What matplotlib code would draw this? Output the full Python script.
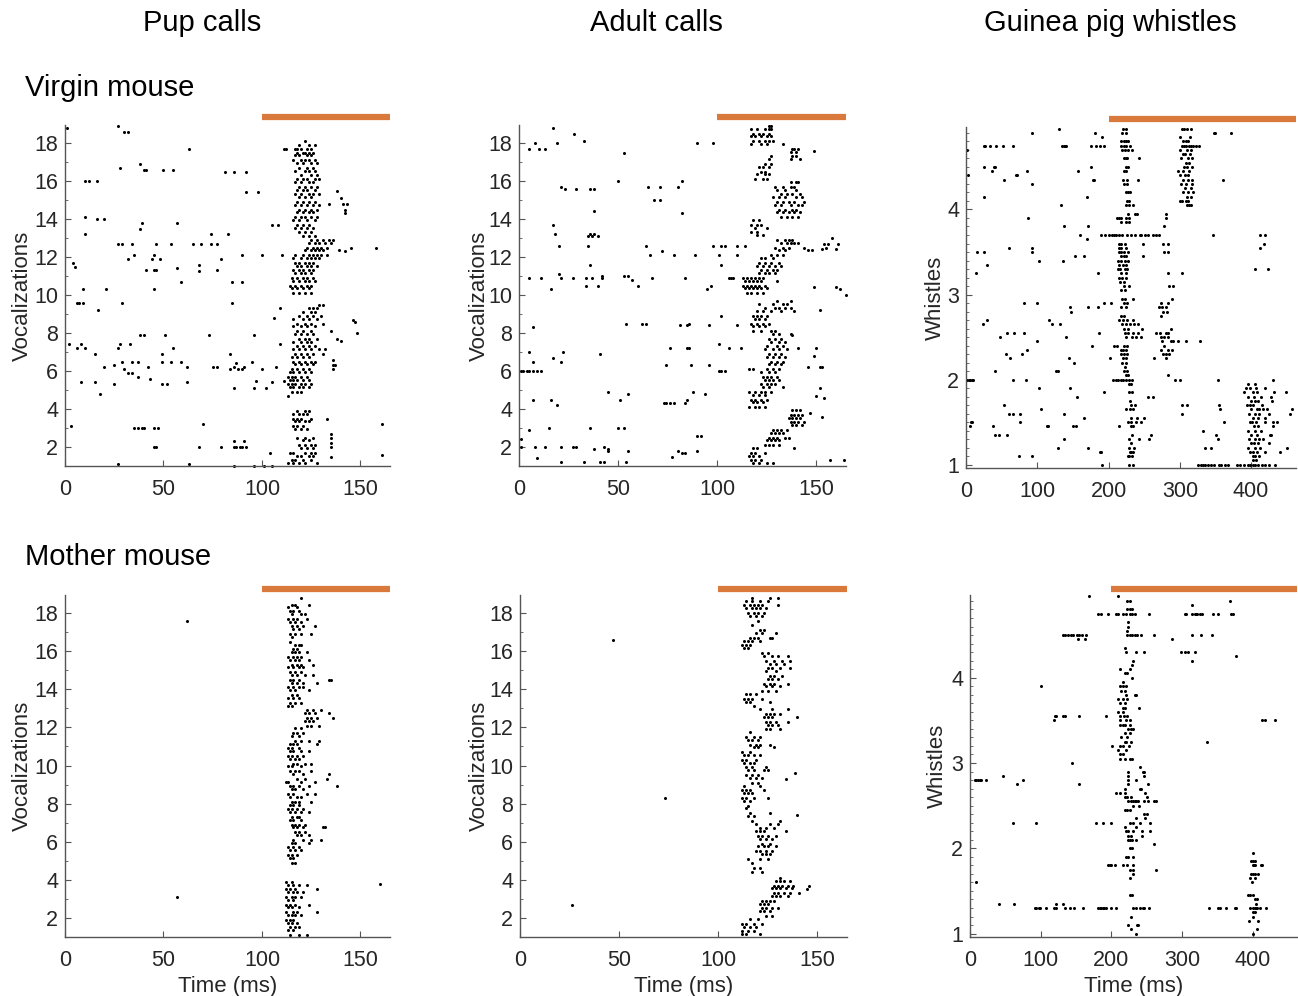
import matplotlib
matplotlib.use("Agg")
import matplotlib.pyplot as plt
from matplotlib.ticker import MultipleLocator

plt.rcParams['font.family'] = ['Liberation Sans', 'DejaVu Sans']

col_titles = ["Pup calls", "Adult calls", "Guinea pig whistles"]
row_titles = ["Virgin mouse", "Mother mouse"]
stim_start = [100, 100, 200]      # ms, start of orange bar
x_max = [165, 165, 463]

# spike rasters: (trial position, [spike times in ms])
virgin_pup = [
    (18.8, [1]), (18.9, [27]), (18.6, [30, 32]), (17.7, [63]),
    (16.7, [28]), (16.9, [38]), (16.6, [40, 41, 50, 55]), (16.5, [81, 86, 92]),
    (16.0, [10, 12, 16]), (15.4, [92, 98]), (14.1, [10]), (14.0, [16, 20]),
    (13.5, [38]), (13.8, [39, 57]), (13.2, [10, 74, 83]),
    (12.7, [27, 29, 34, 46, 54, 65, 69, 74, 77]), (11.7, [4]), (11.5, [5]),
    (11.9, [32, 44, 48, 79]), (12.1, [35, 45, 90, 100, 110, 117]),
    (11.3, [41, 45, 46, 77]), (11.4, [57]), (11.6, [68]), (11.25, [68]),
    (10.7, [59, 85, 90]), (10.3, [9, 21, 45]), (9.6, [6, 7, 9, 29, 85]),
    (9.2, [17]), (9.3, [109]), (8.8, [106]), (7.9, [38, 40, 51, 73, 96]),
    (7.4, [2, 8, 28, 33, 109]), (7.2, [6, 10, 27, 55]), (6.9, [15, 49, 84]),
    (6.2, [20, 42, 62, 75, 77, 86, 91, 107]), (6.3, [25]),
    (6.5, [29, 34, 37, 49, 54, 59, 95]), (6.1, [30, 84, 88, 90, 100]),
    (5.9, [32, 34]), (5.7, [37]), (5.6, [43]), (5.3, [49, 52, 25]),
    (5.4, [62, 8, 15, 105]), (6.4, [87]), (5.1, [86, 96, 102]), (5.5, [97, 111]),
    (4.7, [113]), (4.8, [18]), (3.1, [3]), (3.0, [35, 37, 39, 40, 45, 47]),
    (3.2, [70, 161]), (3.5, [133]), (2.0, [45, 46, 68, 79, 86, 87, 89, 90, 92]),
    (2.3, [86, 91]), (1.1, [27, 63]), (1.0, [86, 96, 101, 105]), (1.7, [104]),
    (1.6, [161]), (12.5, [145, 158]), (12.3, [142]), (8.6, [147]), (8.7, [146]),
    (8.0, [148]), (7.7, [138]), (7.6, [140]), (8.1, [135]), (15.5, [138]),
    (15.1, [140]), (14.8, [134, 141, 143]), (14.5, [142]), (14.3, [142]),
    (2.7, [135]), (2.5, [135]), (2.2, [135]), (2.0, [135]), (1.5, [135]),
    (6.6, [136]), (6.3, [136, 137]), (6.1, [136]),
    # response
    (18.1, [122]), (17.9, [119, 124, 127]), (17.7, [111, 112, 117, 118, 120, 123, 125]),
    (17.5, [118, 121, 122, 124, 126]), (17.35, [117, 119, 123, 125]),
    (17.1, [116, 120, 122, 124, 127]), (16.95, [118, 121, 125, 128]),
    (16.7, [119, 123, 126]), (16.55, [117, 122, 124, 127]), (16.3, [120, 125, 128]),
    (16.1, [118, 121, 123, 127, 129]), (15.95, [117, 120, 124, 126]),
    (15.7, [119, 122, 125, 128]), (15.55, [118, 121, 123, 127]),
    (15.3, [117, 120, 124, 126, 129]), (15.15, [119, 122, 125]),
    (14.9, [118, 121, 124, 127]), (14.75, [117, 120, 123, 126, 129]),
    (14.5, [119, 122, 125, 128]), (14.35, [118, 121, 124, 126]),
    (14.1, [117, 120, 122, 125, 128]), (13.95, [116, 119, 123, 127]),
    (13.7, [105, 108, 118, 121, 124]), (13.55, [117, 120, 123, 126]),
    (13.3, [119, 122, 125]), (13.1, [121, 124, 127]),
    (12.9, [125, 128, 131, 134, 136]), (12.75, [124, 127, 129, 132, 135]),
    (12.5, [123, 126, 128, 130, 133]), (12.35, [122, 125, 127, 129, 131, 139]),
    (12.1, [121, 124, 126, 128, 130, 133]), (11.95, [116, 120, 123, 125, 127, 129]),
    (11.7, [117, 119, 122, 124, 126]), (11.55, [118, 120, 123, 125, 128]),
    (11.3, [116, 119, 121, 124, 126]), (11.15, [117, 120, 122, 125]),
    (10.9, [115, 118, 121, 123, 126]), (10.75, [116, 119, 122, 124, 127]),
    (10.5, [114, 117, 120, 123, 125]), (10.35, [115, 118, 121, 124]),
    (10.1, [116, 119, 122, 125]), (9.5, [129, 131]), (9.3, [124, 126, 128]),
    (9.1, [121, 125, 127]), (8.9, [119, 123, 126, 130]), (8.75, [116, 121, 124, 128]),
    (8.5, [118, 122, 125, 131]), (8.35, [116, 120, 123, 127]), (8.1, [118, 121, 125]),
    (7.95, [117, 120, 123, 126]), (7.7, [119, 122, 124, 128]),
    (7.55, [116, 120, 123, 125]), (7.3, [118, 121, 124, 127]),
    (7.15, [116, 119, 122, 125, 129, 132]), (6.9, [117, 120, 123, 126, 131]),
    (6.75, [115, 118, 121, 124]), (6.5, [116, 119, 122, 125, 127]),
    (6.35, [117, 120, 123, 126]), (6.1, [115, 118, 121, 124]),
    (5.95, [114, 116, 119, 122, 125]), (5.7, [113, 115, 117, 120, 123]),
    (5.55, [114, 116, 118, 121, 124]), (5.3, [113, 115, 117, 120, 122, 125]),
    (5.15, [114, 116, 119, 121, 124]), (4.9, [115, 118, 120]),
    (3.9, [118, 122, 124]), (3.75, [116, 119, 121, 123]), (3.5, [116, 118, 120, 125]),
    (3.35, [117, 119, 122, 124]), (3.1, [116, 118, 121]), (2.95, [117, 120, 123]),
    (2.5, [118, 122, 126]), (2.35, [121, 124]), (2.1, [119, 122, 125, 127]),
    (1.95, [120, 123, 126]), (1.7, [114, 116, 122, 125, 127]),
    (1.55, [118, 120, 124, 126]), (1.3, [115, 117, 121, 125]),
    (1.15, [113, 116, 119, 122, 128]),
]

virgin_adult = [
    (17.7, [5, 10, 13]), (18.0, [8, 19, 90, 98]), (18.8, [17]), (18.5, [28]),
    (18.1, [33]), (17.5, [53]), (17.6, [149]),
    (16.0, [50, 82]), (15.7, [21, 65, 71, 80]), (15.0, [68, 71]), (14.3, [82]),
    (15.6, [23, 29, 36, 38]), (14.4, [38]),
    (13.7, [17]), (13.2, [18, 36, 38]), (12.6, [20, 35, 64, 98, 102, 104, 110, 114]),
    (13.1, [35, 37, 40]), (11.6, [36, 102]), (12.1, [66, 78, 89, 101, 110]),
    (12.3, [72]),
    (10.9, [5, 11, 21, 27, 34, 37, 42, 67, 84, 106, 107, 108]),
    (11.1, [20]), (10.5, [34, 40, 60, 97]), (11.0, [42, 53, 55]), (10.8, [57]),
    (10.3, [16, 95]),
    (8.3, [7]), (8.5, [54, 62, 64, 86]), (8.4, [81, 85, 96, 110]), (8.9, [102]),
    (7.0, [5, 22]), (6.5, [7, 21]), (6.7, [17]), (6.9, [41]),
    (6.0, [1, 2, 4, 5, 7, 9, 11, 101, 102, 104]),
    (6.3, [74, 87, 96]), (7.2, [76, 85, 86, 106, 112]), (7.4, [101]),
    (4.5, [7, 16, 51, 85]), (4.2, [19]), (4.9, [45, 88]), (4.8, [55, 94]),
    (4.3, [73, 74, 76, 78, 84]),
    (2.4, [1]), (2.9, [5]), (3.0, [15, 36, 50, 53]),
    (2.0, [1, 8, 13, 21, 27, 29, 43]), (1.9, [38, 45]), (1.8, [45, 55, 80, 90]),
    (1.4, [9]), (1.2, [21, 33, 41, 43, 54]), (1.5, [77]), (1.7, [82, 84]),
    (2.6, [90, 92]),
    (10.4, [149, 160]), (9.2, [152]), (7.2, [150, 141]), (6.8, [149]),
    (6.2, [146, 152, 153]), (4.7, [150]), (5.1, [152]), (4.6, [154]),
    (3.8, [147]), (3.6, [153]), (1.3, [157, 164]), (10.3, [162]), (10.0, [165]),
    (12.4, [153, 160]), (12.7, [154, 156, 161]), (12.5, [155]), (13.0, [158]),
    (7.9, [138]),
    # response
    (18.9, [126, 127]), (18.75, [117, 120, 124, 126, 127]), (18.5, [118, 121, 123, 126]),
    (18.35, [117, 119, 122, 125, 127]), (18.1, [118, 121, 124, 126, 128]),
    (17.95, [117, 122, 125, 133]), (17.7, [138, 139, 141]), (17.55, [137, 140]),
    (17.3, [127, 138, 140]), (17.15, [126, 137, 142]), (16.9, [124, 127]),
    (16.75, [121, 123, 126]), (16.5, [122, 124]), (16.35, [120, 124, 126]),
    (16.1, [119, 123, 125]), (15.95, [137, 140, 141]), (15.7, [129, 133, 137, 139]),
    (15.55, [130, 134, 140]), (15.3, [132, 135, 138, 142]),
    (15.15, [128, 131, 134, 140, 143]), (14.9, [130, 133, 136, 139, 144]),
    (14.75, [129, 132, 137, 141, 143]), (14.5, [131, 134, 138, 140]),
    (14.35, [130, 133, 136, 139, 142]), (14.1, [132, 135, 138, 141]),
    (13.95, [118, 121]), (13.7, [117, 120, 122]), (13.55, [119, 125]),
    (13.3, [117, 120]), (13.15, [120, 123]), (12.9, [130, 134, 136, 138]),
    (12.75, [132, 135, 137, 139, 141]), (12.5, [129, 133, 136, 144]),
    (12.35, [131, 134, 146, 148]), (12.1, [127, 130, 133]), (11.95, [122, 124, 128]),
    (11.7, [121, 124, 127, 131]), (11.55, [120, 123, 126, 129, 132]),
    (11.3, [122, 125, 128, 130]), (11.15, [121, 124, 126, 129]),
    (10.9, [113, 115, 117, 119, 121, 123]), (10.75, [114, 116, 118, 120, 122, 130]),
    (10.5, [113, 115, 117, 119, 121, 124]), (10.35, [114, 116, 118, 120, 122, 125]),
    (10.1, [115, 117, 120, 123]), (9.7, [130, 137]), (9.55, [121, 128, 133, 135]),
    (9.3, [124, 129, 131, 134, 137]), (9.15, [120, 123, 127, 132, 139]),
    (8.9, [118, 120, 122, 125]), (8.75, [119, 121, 124]), (8.5, [117, 120, 123, 126]),
    (8.35, [118, 121, 124]), (8.1, [118, 122, 127, 129]), (7.95, [128, 131, 137]),
    (7.7, [126, 129, 132]), (7.55, [127, 131, 134]), (7.3, [125, 130, 133]),
    (7.15, [124, 128, 131, 135]), (6.9, [126, 129, 132]), (6.75, [125, 128, 131, 134]),
    (6.5, [127, 130, 133]), (6.35, [126, 129, 132]), (6.1, [116, 118, 125, 128, 131]),
    (5.95, [122, 126, 129]), (5.7, [123, 125, 127, 130]), (5.55, [124, 126, 128, 131]),
    (5.3, [122, 125, 127, 129]), (5.15, [123, 126, 133]),
    (4.9, [116, 119, 122, 124, 127]), (4.75, [118, 121, 124]),
    (4.5, [117, 119, 122, 125]), (4.35, [118, 120, 123]), (4.1, [116, 119, 121, 124]),
    (3.95, [138, 140, 142]), (3.7, [137, 139, 141, 143]), (3.55, [136, 138, 140, 142]),
    (3.3, [137, 139, 141, 144]), (3.15, [138, 140, 143]), (2.9, [128, 130, 132, 135]),
    (2.75, [127, 129, 131, 133]), (2.5, [126, 128, 130, 134, 136]),
    (2.35, [125, 127, 129, 131]), (2.1, [124, 126, 128, 131]), (1.95, [118, 120, 139]),
    (1.7, [117, 119, 124]), (1.55, [116, 118, 121]), (1.3, [117, 119, 122]),
    (1.15, [118, 121, 125, 128]),
]

virgin_whistle = [
    (4.7, [2]), (4.4, [3]), (4.75, [25, 27, 33, 42, 52, 66, 135, 137, 139, 141, 175, 182, 188, 193]),
    (4.5, [25, 39, 41, 176]), (4.45, [37, 85]), (4.35, [53, 178, 180, 361]),
    (4.4, [70, 72]), (4.3, [93]), (4.9, [93, 181, 348, 350, 372]), (4.15, [25, 170]),
    (4.95, [130]), (4.05, [133]), (3.9, [87]), (3.8, [137, 171]), (3.5, [15, 25, 92]),
    (3.55, [60, 93, 413]), (3.25, [14, 185, 303]), (3.35, [30]), (3.4, [103, 136]),
    (3.45, [153, 165]), (3.7, [160, 346, 412, 420]), (3.65, [170]), (4.45, [157]),
    (4.85, [191]), (3.3, [424, 405]), (3.6, [418]),
    (2.65, [24, 121, 132]), (2.7, [30, 117]), (2.5, [48, 140]), (2.3, [56, 79]),
    (2.55, [58, 67, 81, 186]), (2.25, [62, 145, 202]), (2.35, [86]), (2.45, [100, 298, 309, 328]),
    (2.9, [82, 99, 193, 203]), (2.85, [146, 171, 185]), (2.8, [147]), (2.2, [152]),
    (2.4, [177]),
    (2.0, [1, 4, 6, 8, 10, 66, 84, 293, 300, 353, 431]), (2.1, [41, 126, 129]),
    (1.9, [146, 103]), (1.8, [156, 262, 256]), (1.85, [194, 449, 432]),
    (1.7, [54, 303, 310, 355]), (1.6, [61, 66, 76, 138, 303, 455]), (1.65, [105, 356, 457]),
    (1.55, [165, 250]), (1.45, [5, 38, 113, 115, 150, 155, 214, 431]),
    (1.5, [7, 9, 76, 362, 436]), (1.35, [41, 46, 57, 259, 351, 426]),
    (1.3, [137, 257, 353]), (1.2, [129, 171, 335, 344, 451]), (1.1, [75, 93]),
    (1.15, [188, 190, 440]), (1.0, [191, 363]), (2.05, [283]), (1.4, [332]),
    (1.75, [430]),
    # onset column
    (4.95, [220, 224]), (4.9, [219, 224]), (4.8, [218, 222, 225, 227]),
    (4.75, [217, 221, 225, 230]), (4.7, [219, 223, 227, 233]),
    (4.6, [221, 224, 226, 243]), (4.5, [224, 227]), (4.45, [222, 225]),
    (4.35, [220, 226, 241]), (4.3, [222, 226]), (4.2, [224, 227, 230]),
    (4.1, [226, 229]), (4.05, [224, 228, 234]), (3.95, [227, 237, 240]),
    (3.9, [212, 215, 218, 225, 229]), (3.85, [217, 224, 229]),
    (3.7, [190, 195, 200, 205, 208, 211, 214, 219, 226, 231, 237, 244, 246, 251,
           256, 262, 266, 271]),
    (3.6, [215, 218, 223, 249]), (3.55, [214, 217, 225]), (3.5, [214, 217, 221, 227]),
    (3.45, [217, 221, 224, 248]), (3.4, [213, 218, 223, 227]), (3.35, [215, 220, 225]),
    (3.3, [213, 216, 223, 226]), (3.25, [218, 224]), (3.2, [215, 219, 225]),
    (3.15, [216, 222]), (3.1, [221, 228]), (3.05, [217, 223]), (2.95, [219, 223, 234]),
    (2.9, [222, 226]), (2.85, [218, 225]), (2.75, [218, 221]),
    (2.7, [215, 220, 226, 235]), (2.65, [219, 224, 230, 236, 241]),
    (2.6, [222, 227, 247]), (2.55, [223, 227, 235, 241]), (2.5, [224, 233, 238, 245]),
    (2.4, [208, 212, 221, 226]), (2.35, [217, 220, 224]), (2.3, [218, 222, 226]),
    (2.25, [220, 224]), (2.2, [219, 225]), (2.15, [223]), (2.1, [222, 226]),
    (2.05, [224, 227]), (2.0, [206, 210, 213, 217, 220, 224, 228, 233]),
    (1.95, [228, 231]), (1.85, [228, 233]), (1.75, [230]), (1.7, [231, 237]),
    (1.65, [225, 230, 234]), (1.55, [232, 240]), (1.5, [227, 232, 238, 245]),
    (1.45, [232, 235]), (1.35, [233]), (1.3, [229, 243]), (1.25, [232]),
    (1.2, [228, 236]), (1.15, [230, 232, 234]), (1.1, [227, 229, 233]), (1.0, [229, 234]),
    # late cluster, upper
    (4.95, [303, 306, 310, 315]), (4.85, [300, 314]), (4.8, [304, 308, 312]),
    (4.75, [303, 306, 309, 313, 316, 319, 323, 327]), (4.7, [300, 310, 316]),
    (4.65, [305, 307, 314]), (4.6, [302, 312, 317]), (4.55, [308, 313]),
    (4.5, [306, 310, 317]), (4.45, [298, 305, 313]), (4.4, [300, 307, 311]),
    (4.35, [305, 312, 317]), (4.3, [302, 308, 317]), (4.25, [307, 316]),
    (4.2, [304, 312, 318]), (4.15, [310, 315]), (4.1, [300, 303, 308, 312]),
    (4.05, [310, 313, 316]),
    # middle cluster
    (3.9, [280]), (3.95, [281]), (3.8, [278]), (3.6, [277, 284]), (3.5, [284, 278]),
    (3.25, [284]), (3.1, [285, 290]), (2.95, [289]), (2.9, [273, 284]),
    (2.85, [271, 275, 280]), (2.8, [277, 282]), (2.75, [274]), (2.6, [288]),
    (2.55, [266, 272, 280, 283]), (2.5, [274, 278, 283]), (2.45, [275, 288, 291]),
    (2.4, [278]), (2.35, [274, 283, 289]), (2.3, [276, 281, 285]), (2.25, [264, 280]),
    # late cluster, lower
    (1.95, [395, 405]), (1.9, [393, 398, 407, 420]), (1.85, [390, 402, 408]),
    (1.8, [396, 404, 414, 428]), (1.75, [400, 406, 410]), (1.7, [394, 398, 403, 415]),
    (1.65, [400, 408, 411, 417, 422]), (1.6, [397, 405, 411, 425]),
    (1.55, [403, 409, 419]), (1.5, [398, 401, 407, 420, 431]), (1.45, [404, 410]),
    (1.4, [395, 405, 414]), (1.35, [400, 408, 428]), (1.3, [397, 406, 411, 417]),
    (1.25, [400, 404, 409, 425]), (1.2, [396, 405, 413]), (1.15, [399, 403, 408, 420]),
    (1.1, [402, 406, 411]), (1.05, [403, 407]),
    (1.0, [325, 330, 333, 336, 340, 344, 348, 355, 358, 367, 380, 385, 390, 395,
           399, 402, 406, 410, 415, 420, 425, 434]),
]

mother_pup = [
    (17.6, [62]), (3.1, [57]), (3.8, [160]),
    (18.8, [120]), (18.45, [115, 117, 124]), (18.3, [113, 118]), (18.1, [114, 116, 119]),
    (17.95, [115, 120, 122]), (17.7, [113, 116, 118, 123]), (17.55, [114, 117, 120]),
    (17.3, [115, 118, 121, 127]), (17.15, [116, 119]), (16.9, [114, 117, 120, 125]),
    (16.75, [115]), (16.5, [114]), (16.35, [117, 119, 120]), (16.1, [116, 118]),
    (15.95, [115, 117, 119, 123]), (15.7, [113, 116, 118, 120]),
    (15.55, [114, 117, 119, 124]), (15.3, [115, 118, 120, 126]),
    (15.15, [113, 116, 119, 121]), (14.9, [114, 117, 120]),
    (14.75, [115, 118, 122, 126]), (14.5, [114, 116, 119, 134, 135]),
    (14.35, [115, 118, 121, 128]), (14.1, [113, 116, 119, 121]),
    (13.95, [114, 117, 124]), (13.7, [115, 118]), (13.55, [113, 116, 119]),
    (13.3, [114, 117, 120]), (13.15, [113, 115]), (12.9, [123, 126, 130]),
    (12.75, [122, 124, 127, 134]), (12.5, [123, 125, 128, 136]), (12.35, [122, 124, 126]),
    (12.1, [123, 125, 129]), (11.95, [117, 120]), (11.7, [116, 118, 121]),
    (11.55, [115, 119]), (11.3, [117, 120, 124, 129]), (11.15, [114, 116, 118, 128]),
    (10.9, [113, 115, 119]), (10.75, [114, 116, 120, 124]), (10.5, [113, 115, 118, 121]),
    (10.35, [114, 117, 119]), (10.1, [116, 118, 122, 125]), (9.95, [113, 115, 120]),
    (9.7, [114, 117, 119, 125]), (9.55, [116, 121, 134]), (9.3, [118, 122, 133]),
    (9.15, [112, 113, 120, 127]), (8.9, [114, 116, 119, 124, 138]),
    (8.75, [115, 117, 121]), (8.5, [113, 116, 123, 127]), (8.35, [114, 118, 120]),
    (8.1, [115, 117, 119, 125]), (7.95, [114, 116, 119]), (7.7, [113, 115, 118, 121]),
    (7.55, [114, 117, 120, 124]), (7.3, [115, 118, 119]), (7.15, [114, 116, 120]),
    (6.9, [115, 117, 119, 122]), (6.75, [116, 118, 121, 131, 132]),
    (6.5, [117, 119, 122]), (6.35, [118, 120, 124]), (6.1, [116, 121, 125, 130]),
    (5.95, [115, 117, 124]), (5.7, [113, 116, 119]), (5.55, [114, 117, 120]),
    (5.3, [113, 115, 118]), (5.15, [114, 116]), (4.9, [115, 117]),
    (3.9, [112, 115]), (3.75, [113, 116, 119, 123]), (3.5, [112, 114, 117, 128]),
    (3.35, [113, 116, 118, 121]), (3.1, [112, 115, 117, 120]), (2.95, [113, 116]),
    (2.7, [112, 114, 117, 124]), (2.55, [113, 115, 119]), (2.3, [112, 116, 118, 128]),
    (2.15, [113, 115, 117, 120]), (1.9, [112, 114, 116]), (1.75, [113, 115, 118]),
    (1.5, [114, 117, 119]), (1.35, [113, 116]), (1.1, [114, 119, 123]),
]

mother_adult = [
    (16.6, [47]), (8.3, [73]), (2.7, [26]), (9.6, [139]), (9.3, [134]), (7.4, [140]),
    (3.5, [145]), (3.7, [146]),
    (18.8, [117, 126, 130]), (18.65, [114, 117, 121, 125]),
    (18.4, [113, 116, 118, 120, 122, 130]), (18.25, [114, 117, 119, 121, 124]),
    (18.0, [115, 118, 120, 123]), (17.85, [116, 119, 122]), (17.6, [120]),
    (17.4, [117]), (17.1, [121, 123]), (16.95, [119, 122, 129]),
    (16.7, [116, 118, 120, 126, 127]), (16.55, [113, 115, 117, 121]),
    (16.3, [112, 114, 116]), (16.15, [113, 115]), (15.9, [122, 125]),
    (15.75, [123, 127, 130, 135]), (15.5, [124, 128, 132, 136]), (15.35, [126, 129, 133]),
    (15.1, [125, 127, 131, 136]), (14.95, [124, 129]), (14.7, [126, 128, 132]),
    (14.55, [125, 127, 130]), (14.3, [123, 126, 128, 135]), (14.15, [124, 127, 131]),
    (13.9, [122, 125, 129]), (13.75, [114, 116, 119]), (13.5, [113, 115, 117, 122]),
    (13.35, [114, 116, 126]), (13.1, [118]), (12.95, [121, 127, 135]),
    (12.7, [124, 126, 128, 131]), (12.55, [123, 125, 127, 140]),
    (12.3, [124, 126, 129, 135]), (12.15, [125, 127, 130]), (11.9, [124, 126, 131]),
    (11.75, [116]), (11.5, [114, 118, 121]), (11.35, [115, 117, 120]),
    (11.1, [116, 119, 121, 126]), (10.95, [118, 120, 128]), (10.7, [112, 116]),
    (10.55, [113, 115, 118, 121]), (10.3, [112, 114, 119]), (10.15, [113, 116, 118]),
    (9.9, [114, 117, 124]), (9.75, [115, 118, 123, 125]), (9.5, [114, 117, 120]),
    (9.35, [116, 119, 122]), (9.1, [117, 120]), (8.95, [113, 121]),
    (8.7, [112, 114, 116, 123]), (8.55, [113, 115, 117]), (8.3, [112, 114, 118, 125]),
    (8.15, [113, 116]), (7.9, [115]), (7.75, [114]), (7.5, [116, 126]), (7.35, [115, 118]),
    (7.1, [117, 131]), (6.95, [119, 126, 130]), (6.7, [121, 124, 128]),
    (6.55, [119, 121, 123, 134]), (6.3, [120, 122, 125, 129]), (6.15, [121, 124, 127]),
    (5.9, [122, 126]), (5.75, [120, 123, 125, 129]), (5.5, [119, 121, 124, 127]),
    (5.35, [122, 124, 126]), (5.1, [115, 121, 125]), (4.9, [117]), (4.6, [118, 121]),
    (4.4, [117, 122]), (4.1, [131]), (3.95, [129, 131, 133, 136]),
    (3.7, [128, 130, 132, 135, 138]), (3.55, [127, 129, 131, 134, 137]),
    (3.3, [128, 130, 133, 136, 141]), (3.15, [127, 129, 131, 135]),
    (2.9, [122, 124, 126, 128]), (2.75, [121, 123, 125]), (2.5, [122, 124, 127, 130]),
    (2.35, [121, 123, 126]), (2.1, [124, 127]), (1.95, [116, 120]),
    (1.7, [112, 114, 118, 122]), (1.55, [113, 116, 119]), (1.3, [112, 115, 118]),
    (1.15, [112, 114, 121]),
]

mother_whistle = [
    (4.96, [169, 210]), (4.9, [222, 227, 368]), (4.8, [222, 226, 230]),
    (4.75, [181, 185, 196, 207, 210, 216, 221, 226, 230, 233, 254,
            304, 306, 315, 318, 320, 322, 325, 328, 344, 351, 369, 373]),
    (4.85, [315]), (4.65, [224]), (4.6, [224]), (4.55, [223]),
    (4.5, [132, 135, 139, 143, 146, 151, 155, 159, 164, 222, 226, 230, 233, 237,
           242, 260, 315, 327, 343]),
    (4.45, [153, 163, 286]), (4.35, [220]), (4.3, [221, 235, 247, 299, 304, 308, 319]),
    (4.25, [377]), (4.2, [231, 315]), (4.15, [229]), (4.1, [212, 226]),
    (4.05, [220, 223]), (4.0, [229]), (3.95, [216]), (3.9, [101, 212, 216, 221]),
    (3.85, [214, 219]), (3.8, [221, 233, 235]), (3.75, [209, 216, 223]),
    (3.7, [212, 219]), (3.65, [216, 220, 239]), (3.6, [209, 216]),
    (3.55, [120, 122, 132, 134, 154, 193, 212, 218, 223]),
    (3.5, [119, 212, 221, 226, 414, 417, 432]), (3.45, [213, 216, 220, 227]),
    (3.4, [224, 228, 231]), (3.35, [219, 226]), (3.3, [214, 222]),
    (3.25, [219, 221, 228, 335]), (3.2, [201, 212, 216, 225]), (3.15, [209, 221]),
    (3.1, [213, 216]), (3.05, [213, 219, 226, 230]), (3.0, [145]), (2.95, [241]),
    (2.9, [224, 245, 247]), (2.85, [224, 247, 47]),
    (2.8, [7, 9, 12, 14, 16, 22, 75, 224, 235]), (2.75, [67, 154, 224, 252]),
    (2.7, [220, 240, 242]), (2.65, [207, 213, 219, 248]), (2.6, [219, 222, 228, 250]),
    (2.55, [224, 228, 231, 233, 235, 238, 247, 252, 261, 264]), (2.5, [231, 239]),
    (2.45, [219, 222, 226]), (2.4, [246, 251]), (2.35, [235, 248]),
    (2.3, [61, 93, 178, 188, 200, 226, 231, 240, 255]), (2.25, [219, 235]),
    (2.2, [221, 224, 231, 243, 255]), (2.15, [224, 228, 243]),
    (2.1, [224, 227, 230, 235]), (2.05, [261]), (2.0, [227, 230]),
    (1.9, [221, 224, 231]), (1.8, [195, 198, 200, 205, 216, 223, 231, 400, 402, 414]),
    (1.75, [263, 226, 231]), (1.7, [231]), (1.65, [226]), (1.6, [9]), (1.45, [226, 229]),
    (1.35, [41, 62, 122, 132]),
    (1.3, [92, 94, 97, 99, 108, 119, 122, 135, 141, 147, 160, 181, 184, 186, 188,
           190, 193, 200, 207, 231, 235, 240, 245, 247, 254, 339, 351, 354, 363,
           375, 377, 397, 400, 403, 405, 407, 410, 419]),
    (1.2, [228, 400]), (1.15, [395, 408]), (1.1, [224, 237, 238]),
    (1.05, [228, 406]), (1.0, [235, 400]),
    (1.95, [400]), (1.85, [398, 401, 404]), (1.8, [403, 412]), (1.7, [398, 401, 404, 408]),
    (1.65, [397, 403]), (1.6, [399]), (1.45, [394, 397, 401]), (1.4, [403, 407]),
    (1.35, [405]), (1.25, [400, 404]),
]

panel_rows = [[virgin_pup, virgin_adult, virgin_whistle],
              [mother_pup, mother_adult, mother_whistle]]


def flatten(rows):
    xs, ys = [], []
    for y, times in rows:
        for t in times:
            xs.append(t)
            ys.append(y)
    return xs, ys


W, H = 1298, 996
fig = plt.figure(figsize=(W / 100, H / 100), dpi=100)

# axes boxes in pixels: left, top, right, bottom
boxes = [[(65, 125, 390, 466), (519, 125, 846, 466), (966, 127, 1296, 468)],
         [(65, 595, 390, 937), (520, 595, 847, 937), (970, 595, 1297, 937)]]
# right edge of the rotated y label, pixels
ylab_x = [[33, 490, 946], [33, 490, 948]]

axcol = '#262626'
for r in range(2):
    for c in range(3):
        l, t, rr, b = boxes[r][c]
        ax = fig.add_axes([l / W, 1 - b / H, (rr - l) / W, (b - t) / H])
        xs, ys = flatten(panel_rows[r][c])
        ax.plot(xs, ys, 'o', ms=2.2, mew=0, color='black', clip_on=False)
        ax.set_xlim(0, x_max[c])
        if c < 2:
            ax.set_ylim(1.0, 18.95)
            ax.yaxis.set_major_locator(MultipleLocator(2))
            ax.yaxis.set_minor_locator(MultipleLocator(1))
            ax.xaxis.set_major_locator(MultipleLocator(50))
            ax.set_ylabel("Vocalizations", fontsize=16, color=axcol)
        else:
            ax.set_ylim(0.96, 4.97)
            ax.yaxis.set_major_locator(MultipleLocator(1))
            ax.yaxis.set_minor_locator(MultipleLocator(0.1))
            ax.xaxis.set_major_locator(MultipleLocator(100))
            ax.set_ylabel("Whistles", fontsize=16, color=axcol)
        ax.yaxis.set_label_coords((ylab_x[r][c] - l) / (rr - l), 0.5)
        if r == 1:
            ax.set_xlabel("Time (ms)", fontsize=16, color=axcol)
            ax.xaxis.set_label_coords(0.5, -(976 - b) / (b - t))
        for s in ['top', 'right']:
            ax.spines[s].set_visible(False)
        for s in ['left', 'bottom']:
            ax.spines[s].set_color('#555555')
            ax.spines[s].set_linewidth(1.0)
        ax.tick_params(which='major', direction='in', length=4, width=0.8,
                       labelsize=15.5, labelcolor=axcol, color='#555555', pad=5)
        ax.tick_params(which='minor', direction='in', length=2.5, width=0.6,
                       color='#555555')
        ax.tick_params(axis='x', which='major', pad=9)
        # stimulus bar above the raster
        ybar = 1.024 if r == 0 else 1.018
        ax.plot([stim_start[c], x_max[c]], [ybar, ybar], color='#D97A3C', lw=4.5,
                solid_capstyle='butt', transform=ax.get_xaxis_transform(),
                clip_on=False)

for txt, xc in zip(col_titles, [202, 656, 1110]):
    fig.text(xc / W, 1 - 23 / H, txt, ha='center', va='center', fontsize=21,
             color='black')
for txt, yc in zip(row_titles, [88, 557]):
    fig.text(25 / W, 1 - yc / H, txt, ha='left', va='center', fontsize=21,
             color='black')

fig.savefig("out.png", dpi=100)
